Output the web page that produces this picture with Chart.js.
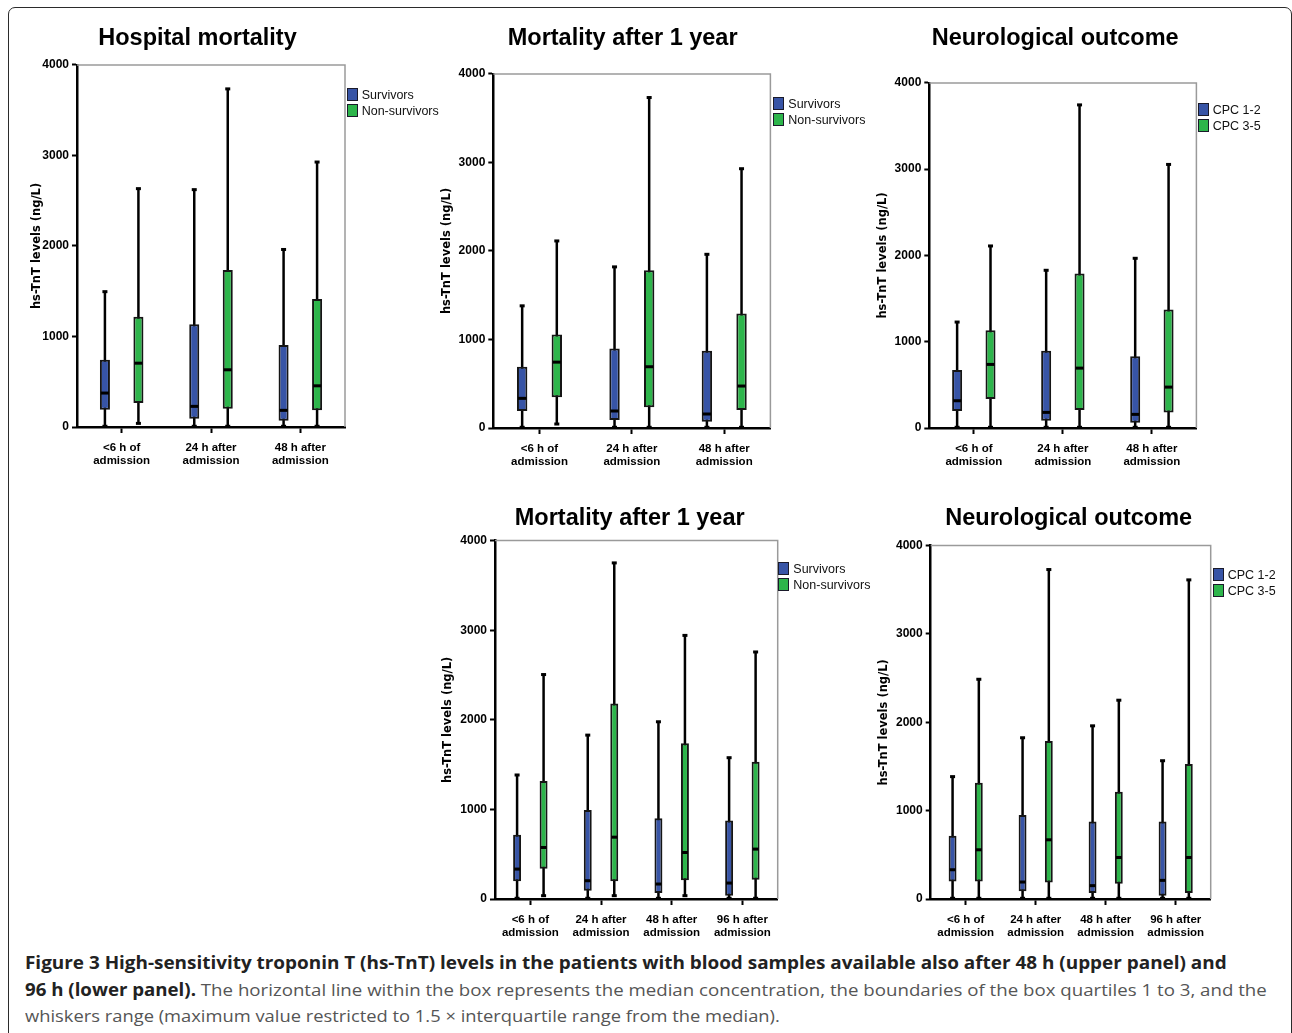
<!DOCTYPE html>
<html>
<head>
<meta charset="utf-8">
<script src="https://cdn.jsdelivr.net/npm/chart.js@4.4.1/dist/chart.umd.min.js"></script>
<style>
  body { margin: 0; background: #fff; width: 1292px; height: 1033px; overflow: hidden; position: relative; }
  #frame { position: absolute; left: 8px; top: 7px; width: 1284px; height: 1100px; box-sizing: border-box;
           border: 1.5px solid #2b2b2b; border-radius: 7px; }
  .panel { position: absolute; }
  .leg { position: absolute; font-family: 'Liberation Sans', Arial, sans-serif;
         font-size: 12.5px; color: #111; line-height: 16px; white-space: nowrap; }
  .leg div { height: 16px; position: relative; padding-left: 15px; }
  .leg span { position: absolute; left: 0; top: 1px; width: 11px; height: 13px; box-sizing: border-box; border: 1.5px solid #1a1a2a; }
  .cap { position: absolute; left: 25px; font-family: 'Open Sans', sans-serif; font-size: 17px; white-space: nowrap; color: #555;
         transform-origin: 0 50%; }
  .cap b { color: #222; font-weight: 700; }
</style>
</head>
<body>
<div id="frame"></div>
<div class="panel" style="left:10px;top:10px;width:360px;height:462px"><canvas id="chart-hosp"></canvas></div>
<div class="panel" style="left:430px;top:10px;width:375px;height:463px"><canvas id="chart-mort48"></canvas></div>
<div class="panel" style="left:870px;top:10px;width:364px;height:463px"><canvas id="chart-neuro48"></canvas></div>
<div class="panel" style="left:430px;top:490px;width:388px;height:454px"><canvas id="chart-mort96"></canvas></div>
<div class="panel" style="left:870px;top:490px;width:390px;height:454px"><canvas id="chart-neuro96"></canvas></div>

<div class="cap" data-w="1202" style="top:951px"><b>Figure 3 High-sensitivity troponin T (hs-TnT) levels in the patients with blood samples available also after 48 h (upper panel) and</b></div>
<div class="cap" data-w="1242" style="top:978px"><b>96 h (lower panel).</b> The horizontal line within the box represents the median concentration, the boundaries of the box quartiles 1 to 3, and the</div>
<div class="cap" data-w="755" style="top:1004px">whiskers range (maximum value restricted to 1.5 × interquartile range from the median).</div>

<script>
// categories
const cats48 = [['<6 h of', 'admission'], ['24 h after', 'admission'], ['48 h after', 'admission']]
const cats96 = [['<6 h of', 'admission'], ['24 h after', 'admission'], ['48 h after', 'admission'], ['96 h after', 'admission']]
const yTicks = [0, 1000, 2000, 3000, 4000]

// each row: [min, q1, median, q3, max]
const hospSurvivors    = [[8, 191, 375, 742, 1495], [8, 92, 228, 1135, 2622], [8, 70, 184, 907, 1961]]
const hospNonSurvivors = [[40, 264, 705, 1219, 2633], [8, 202, 632, 1733, 3735], [8, 184, 455, 1414, 2927]]

const mort48Survivors    = [[8, 192, 335, 692, 1380], [8, 90, 192, 898, 1820], [8, 71, 158, 872, 1962]]
const mort48NonSurvivors = [[45, 346, 744, 1056, 2113], [8, 233, 692, 1782, 3733], [8, 203, 474, 1293, 2929]]

const neuro48Good = [[8, 197, 316, 671, 1228], [8, 85, 181, 895, 1828], [8, 62, 158, 833, 1967]]
const neuro48Poor = [[8, 336, 737, 1134, 2110], [8, 208, 694, 1790, 3745], [8, 181, 474, 1373, 3055]]

const mort96Survivors    = [[8, 197, 334, 716, 1384], [8, 93, 204, 994, 1829], [8, 67, 167, 902, 1978], [8, 37, 178, 876, 1577]]
const mort96NonSurvivors = [[37, 338, 575, 1317, 2505], [37, 197, 690, 2182, 3751], [37, 208, 519, 1737, 2942], [8, 215, 557, 1532, 2757]]

const neuro96Good = [[8, 199, 331, 715, 1385], [8, 87, 192, 951, 1825], [8, 68, 151, 877, 1960], [8, 38, 211, 877, 1565]]
const neuro96Poor = [[8, 199, 557, 1317, 2487], [8, 188, 670, 1787, 3729], [8, 173, 470, 1215, 2250], [8, 68, 470, 1528, 3612]]

const mortalityGroups = ['Survivors', 'Non-survivors']
const cpcGroups = ['CPC 1-2', 'CPC 3-5']

const blue = '#3754a6'
const green = '#2db54b'
const tickFont = "'Liberation Sans', Arial, sans-serif"

// plot frame, medians and whisker caps
const boxParts = {
    id: 'boxParts',
    beforeDatasetsDraw(chart) {
        const a = chart.chartArea
        const ctx = chart.ctx
        ctx.save()
        ctx.strokeStyle = '#9a9a9a'
        ctx.lineWidth = 1.5
        ctx.beginPath()
        ctx.moveTo(a.left, a.top)
        ctx.lineTo(a.right, a.top)
        ctx.lineTo(a.right, a.bottom)
        ctx.stroke()
        ctx.restore()
    },
    afterDatasetsDraw(chart) {
        const ctx = chart.ctx
        const y = chart.scales.y
        ctx.save()
        ctx.fillStyle = '#000'
        chart.data.datasets.forEach((ds, i) => {
            const meta = chart.getDatasetMeta(i)
            meta.data.forEach((el, j) => {
                const s = ds.stats[j]
                if (ds.kind === 'box') {
                    const w = el.width - 2
                    ctx.fillRect(el.x - w / 2, y.getPixelForValue(s[2]) - 1.5, w, 3)
                } else {
                    ctx.fillRect(el.x - 2.5, y.getPixelForValue(s[4]) - 1.5, 5, 3)
                    ctx.fillRect(el.x - 2.5, y.getPixelForValue(s[0]) - 1.5, 5, 3)
                }
            })
        })
        ctx.restore()
    }
}

function makeChart(id, title, cats, groupA, groupB, names, lay) {
    const ctx = document.getElementById(id).getContext('2d')
    const bar = { categoryPercentage: 0.75, barPercentage: 0.3 }
    return new Chart(ctx, {
        type: 'bar',
        data: {
            labels: cats,
            datasets: [
                Object.assign({ label: names[0], kind: 'box', stats: groupA, data: groupA.map(d => [d[1], d[3]]), stack: 'a',
                    backgroundColor: blue, borderColor: '#151515', borderWidth: 2, borderSkipped: false }, bar),
                Object.assign({ label: names[1], kind: 'box', stats: groupB, data: groupB.map(d => [d[1], d[3]]), stack: 'b',
                    backgroundColor: green, borderColor: '#151515', borderWidth: 2, borderSkipped: false }, bar),
                Object.assign({ label: names[0] + ' range', kind: 'whisker', stats: groupA, data: groupA.map(d => [d[0], d[4]]), stack: 'a',
                    backgroundColor: '#000', maxBarThickness: 2.5 }, bar),
                Object.assign({ label: names[1] + ' range', kind: 'whisker', stats: groupB, data: groupB.map(d => [d[0], d[4]]), stack: 'b',
                    backgroundColor: '#000', maxBarThickness: 2.5 }, bar)
            ]
        },
        options: {
            responsive: true,
            maintainAspectRatio: false,
            animation: false,
            layout: { padding: { left: lay.padL, right: 0, top: 0, bottom: 0 } },
            plugins: {
                legend: { display: false },
                tooltip: { enabled: false },
                title: {
                    display: true,
                    text: title,
                    color: '#000',
                    font: { family: "'Liberation Sans', Arial, sans-serif", size: 23.5, weight: 'bold' },
                    padding: { top: lay.titleTop, bottom: lay.titleBottom }
                }
            },
            scales: {
                x: {
                    stacked: true,
                    offset: true,
                    grid: { display: true, drawOnChartArea: false, offset: false, color: '#000', tickLength: 6, tickWidth: 2 },
                    border: { color: '#000', width: 2.5 },
                    ticks: { color: '#000', padding: 8, maxRotation: 0, font: { family: tickFont, size: 11.5, weight: 'bold', lineHeight: '13.5px' } },
                    afterFit: s => { s.height = 45 }
                },
                y: {
                    stacked: false,
                    min: yTicks[0],
                    max: yTicks[yTicks.length - 1],
                    afterBuildTicks: s => { s.ticks = yTicks.map(v => ({ value: v })) },
                    grid: { drawOnChartArea: false, color: '#000', tickLength: 5, tickWidth: 2 },
                    border: { color: '#000', width: 2.5 },
                    ticks: { color: '#000', padding: 3, font: { family: tickFont, size: 12, weight: 'bold' }, callback: v => String(v) },
                    title: {
                        display: true,
                        text: 'hs-TnT levels (ng/L)',
                        color: '#000',
                        font: { family: "'DejaVu Sans', sans-serif", size: 11.5, weight: 'bold' },
                        padding: { top: lay.yTitlePad, bottom: 0 }
                    },
                    afterFit: s => { s.width = lay.yW }
                },
                // empty right box, only to centre the title as in the figure
                spacer: {
                    type: 'linear',
                    position: 'right',
                    grid: { display: false },
                    border: { display: false },
                    ticks: { display: false },
                    afterFit: s => { s.width = lay.spacer }
                }
            }
        },
        plugins: [boxParts]
    })
}

function makeLegend(names, left, top) {
    const box = document.createElement('div')
    box.className = 'leg'
    box.style.left = left + 'px'
    box.style.top = top + 'px'
    names.forEach((n, i) => {
        const row = document.createElement('div')
        const sw = document.createElement('span')
        sw.style.background = i === 0 ? blue : green
        row.appendChild(sw)
        row.appendChild(document.createTextNode(n))
        box.appendChild(row)
    })
    document.body.appendChild(box)
}

makeChart('chart-hosp', 'Hospital mortality', cats48, hospSurvivors, hospNonSurvivors, mortalityGroups,
    { padL: 15, yW: 52, spacer: 25, yTitlePad: 5, titleTop: 14.5, titleBottom: 12.2 })
makeChart('chart-mort48', 'Mortality after 1 year', cats48, mort48Survivors, mort48NonSurvivors, mortalityGroups,
    { padL: 10.3, yW: 53, spacer: 34.6, yTitlePad: 0, titleTop: 14.5, titleBottom: 21.2 })
makeChart('chart-neuro48', 'Neurological outcome', cats48, neuro48Good, neuro48Poor, cpcGroups,
    { padL: 6.4, yW: 52.9, spacer: 37.6, yTitlePad: 0, titleTop: 14.5, titleBottom: 30.2 })
makeChart('chart-mort96', 'Mortality after 1 year', cats96, mort96Survivors, mort96NonSurvivors, mortalityGroups,
    { padL: 11.4, yW: 53.6, spacer: 40.3, yTitlePad: 0, titleTop: 14, titleBottom: 8.4 })
makeChart('chart-neuro96', 'Neurological outcome', cats96, neuro96Good, neuro96Poor, cpcGroups,
    { padL: 7.4, yW: 53.3, spacer: 49.3, yTitlePad: 0, titleTop: 14, titleBottom: 13.4 })

makeLegend(mortalityGroups, 346.7, 87)
makeLegend(mortalityGroups, 773.3, 96)
makeLegend(cpcGroups, 1197.7, 102)
makeLegend(mortalityGroups, 778.3, 561)
makeLegend(cpcGroups, 1212.7, 567)

// stretch caption lines to the widths they have in the figure
document.querySelectorAll('.cap').forEach(el => {
    el.style.transform = 'scaleX(' + (Number(el.dataset.w) / el.offsetWidth) + ')'
})
</script>
</body>
</html>
